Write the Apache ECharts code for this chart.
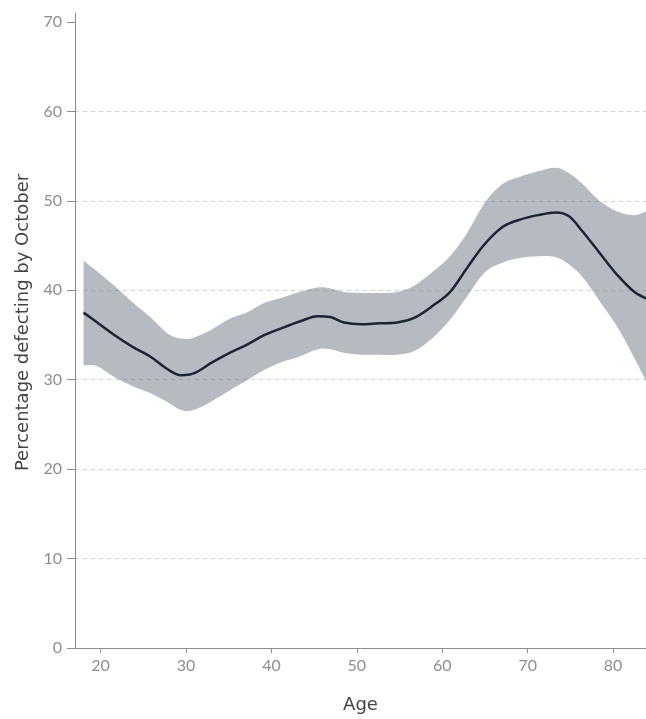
<!DOCTYPE html>
<html>
<head>
<meta charset="utf-8">
<script src="https://cdn.jsdelivr.net/npm/echarts@6/dist/echarts.min.js"></script>
<style>
  html, body { margin: 0; padding: 0; background: #fff; }
  #chart { width: 646px; height: 719px; }
</style>
</head>
<body>
<div id="chart"></div>
<script>
// Age at which each estimate is taken
var ages = [18.0, 19.6, 21.6, 23.7, 25.8, 27.8, 29.4, 30.9, 33.0, 35.1, 37.1, 39.2, 41.3, 43.3, 45.4, 46.9, 48.5,
            50.5, 52.6, 54.7, 56.7, 58.8, 60.9, 62.9, 65.0, 67.1, 69.1, 71.2, 73.3, 74.8, 76.4, 78.4, 80.5, 82.5, 84.1];

// Estimated share defecting (%)
var estimate = [37.5, 36.4, 35.0, 33.7, 32.6, 31.2, 30.5, 30.7, 31.9, 33.0, 33.9, 35.0, 35.8, 36.5, 37.1, 37.0, 36.4,
                36.2, 36.3, 36.4, 36.9, 38.2, 39.8, 42.5, 45.2, 47.1, 47.9, 48.4, 48.7, 48.3, 46.6, 44.2, 41.7, 39.8, 39.0];

// Confidence band edges (%)
var upper = [43.3, 42.1, 40.5, 38.7, 37.0, 35.2, 34.6, 34.7, 35.6, 36.8, 37.5, 38.6, 39.2, 39.8, 40.3, 40.2, 39.8,
             39.7, 39.7, 39.8, 40.5, 42.0, 43.8, 46.4, 49.8, 51.9, 52.7, 53.3, 53.7, 53.1, 51.9, 50.0, 48.8, 48.4, 48.9];
var lower = [31.6, 31.5, 30.3, 29.3, 28.5, 27.5, 26.6, 26.6, 27.6, 28.8, 29.9, 31.1, 32.0, 32.6, 33.4, 33.4, 33.0,
             32.8, 32.8, 32.8, 33.2, 34.6, 36.7, 39.3, 42.0, 43.1, 43.6, 43.8, 43.7, 42.9, 41.5, 38.8, 35.9, 32.4, 29.4];

// Axis ticks
var xTicks = [20, 30, 40, 50, 60, 70, 80];
var yTicks = [0, 10, 20, 30, 40, 50, 60, 70];

var estimatePts = ages.map(function (x, i) { return [x, estimate[i]]; });

var SMOOTH = 0.35;
var labelFont = 'Lato, "Noto Sans", sans-serif';
var nameFont = '"DejaVu Sans", sans-serif';

// Smoothed cubic path through pixel points (cardinal-style control points)
function smoothSegments(pts, first) {
  var d = first ? 'M' + pts[0][0] + ',' + pts[0][1] : 'L' + pts[0][0] + ',' + pts[0][1];
  for (var i = 0; i < pts.length - 1; i++) {
    var p0 = pts[Math.max(i - 1, 0)], p1 = pts[i], p2 = pts[i + 1], p3 = pts[Math.min(i + 2, pts.length - 1)];
    var c1x = p1[0] + (p2[0] - p0[0]) * SMOOTH / 2;
    var c1y = p1[1] + (p2[1] - p0[1]) * SMOOTH / 2;
    var c2x = p2[0] - (p3[0] - p1[0]) * SMOOTH / 2;
    var c2y = p2[1] - (p3[1] - p1[1]) * SMOOTH / 2;
    d += 'C' + c1x + ',' + c1y + ' ' + c2x + ',' + c2y + ' ' + p2[0] + ',' + p2[1];
  }
  return d;
}

// Confidence band drawn as one filled shape between the upper and lower edges
function renderBand(params, api) {
  if (params.dataIndex !== 0) return;
  var top = ages.map(function (a, i) { return api.coord([a, upper[i]]); });
  var bottom = ages.map(function (a, i) { return api.coord([a, lower[i]]); }).reverse();
  var d = smoothSegments(top, true) + smoothSegments(bottom, false) + 'Z';
  var cs = params.coordSys;
  return {
    type: 'group',
    clipPath: { type: 'rect', shape: { x: cs.x, y: cs.y, width: cs.width, height: cs.height } },
    children: [{
      type: 'path',
      shape: { pathData: d },
      style: { fill: 'rgba(110,118,132,0.5)', stroke: null }
    }]
  };
}

var chart = echarts.init(document.getElementById('chart'), null, { renderer: 'canvas' });
chart.setOption({
  animation: false,
  backgroundColor: '#ffffff',
  grid: { left: 75, right: 0, top: 13, bottom: 71, containLabel: false },
  xAxis: {
    type: 'value',
    min: 17,
    max: 83.85,
    name: 'Age',
    nameLocation: 'middle',
    nameGap: 48,
    nameTextStyle: { color: '#444444', fontSize: 18, fontFamily: nameFont },
    axisLine: { show: true, lineStyle: { color: '#8c8c8c', width: 1 } },
    axisTick: { show: true, length: 5, customValues: xTicks, lineStyle: { color: '#8c8c8c' } },
    axisLabel: { customValues: xTicks, color: '#8e8e8e', fontSize: 16, fontFamily: labelFont, margin: 10 },
    splitLine: { show: false }
  },
  yAxis: {
    type: 'value',
    min: 0,
    max: 71,
    name: 'Percentage defecting by October',
    nameLocation: 'middle',
    nameGap: 42,
    nameTextStyle: { color: '#444444', fontSize: 18, fontFamily: nameFont, padding: [0, 0, 0, 16] },
    axisLine: { show: true, lineStyle: { color: '#8c8c8c', width: 1 } },
    axisTick: { show: true, length: 8, customValues: yTicks, lineStyle: { color: '#8c8c8c' } },
    axisLabel: { customValues: yTicks, color: '#8e8e8e', fontSize: 16, fontFamily: labelFont, margin: 13 },
    splitLine: {
      show: true,
      showMinLine: false,
      showMaxLine: false,
      lineStyle: { color: '#cfcfcf', type: [4, 4], width: 1 }
    }
  },
  series: [
    {
      type: 'custom',
      name: 'band',
      data: [0],
      renderItem: renderBand,
      silent: true,
      z: 1
    },
    {
      type: 'line',
      name: 'estimate',
      data: estimatePts,
      smooth: SMOOTH,
      symbol: 'none',
      lineStyle: { color: '#1c2535', width: 2.5 },
      z: 3
    }
  ]
});
</script>
</body>
</html>
